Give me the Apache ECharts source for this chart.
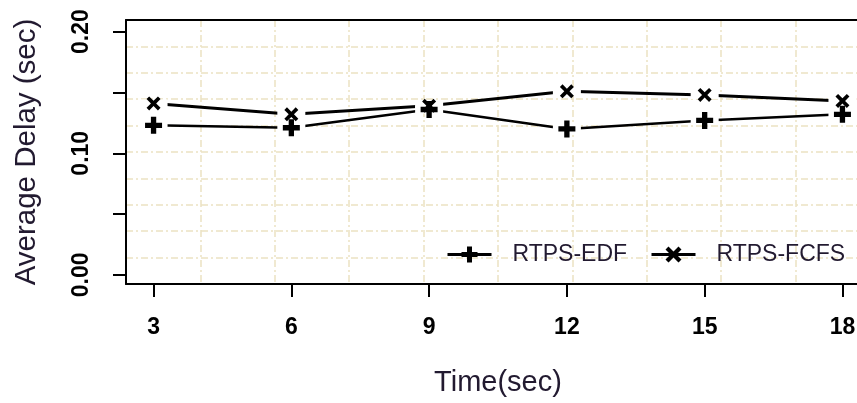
<!doctype html>
<html lang="en">
  <head>
    <meta charset="UTF-8" />
    <title>Average Delay</title>
    <script src="https://cdn.jsdelivr.net/npm/echarts@6/dist/echarts.min.js"></script>
  </head>
  <body style="margin: 0; background: #fff">
    <div id="chart" style="width: 857px; height: 403px"></div>
    <script>
      const times = [3, 6, 9, 12, 15, 18];
      const edfDelay = [0.123, 0.121, 0.136, 0.12, 0.127, 0.132];
      const fcfsDelay = [0.141, 0.132, 0.139, 0.151, 0.148, 0.143];
      const yTicks = [0, 0.05, 0.1, 0.15, 0.2];
      const yLabels = [0, 0.1, 0.2];

      const PLUS = 'path://M5.5,0H10.5V5.5H16V10.5H10.5V16H5.5V10.5H0V5.5H5.5Z';
      const CROSS = 'path://M0,3L3,0L8,5L13,0L16,3L11,8L16,13L13,16L8,11L3,16L0,13L5,8Z';
      const TEXT = '#221a30';
      const GRID = '#ece2c2';

      const pairs = (ys) => times.map((t, i) => [t, ys[i]]);

      // hidden 0..10 axes just to draw R's grid(10, 10); their axis lines close the box
      const gridAxis = {
        type: 'value',
        min: 0,
        max: 10,
        interval: 1,
        axisLine: { show: true, onZero: false, lineStyle: { color: '#000', width: 2 } },
        axisTick: { show: false },
        axisLabel: { show: false },
        splitLine: { show: true, lineStyle: { color: GRID, width: 1.5, type: [7, 3, 2, 3] } },
      };

      const legendBase = {
        orient: 'horizontal',
        top: 243,
        padding: 0,
        itemWidth: 44,
        itemHeight: 20,
        selectedMode: false,
        lineStyle: { width: 3, color: '#000' },
        textStyle: { fontFamily: 'Liberation Sans', fontSize: 23, color: TEXT, padding: [0, 0, 0, 16] },
      };

      const chart = echarts.init(document.getElementById('chart'));
      chart.setOption({
        animation: false,
        backgroundColor: '#fff',
        textStyle: { fontFamily: 'Liberation Sans' },
        grid: {
          left: 126,
          top: 20,
          width: 744,
          height: 264,
          outerBoundsMode: 'none',
          containLabel: false,
          show: false,
        },
        legend: [
          Object.assign({}, legendBase, { left: 446, data: ['RTPS-EDF'] }),
          Object.assign({}, legendBase, { left: 650, data: ['RTPS-FCFS'] }),
        ],
        xAxis: [
          {
            type: 'value',
            min: 2.4,
            max: 18.6,
            position: 'bottom',
            splitLine: { show: false },
            axisLine: { show: true, onZero: false, lineStyle: { color: '#000', width: 2 } },
            axisTick: { show: true, customValues: times, length: 13, lineStyle: { color: '#000', width: 2 } },
            axisLabel: {
              customValues: times,
              fontSize: 23,
              fontWeight: 'bold',
              color: '#000',
              margin: 32,
            },
            name: 'Time(sec)',
            nameLocation: 'middle',
            nameGap: 84,
            nameTextStyle: { fontSize: 29, color: TEXT },
          },
          Object.assign({ position: 'top' }, gridAxis),
        ],
        yAxis: [
          {
            type: 'value',
            min: -0.0075,
            max: 0.2096,
            position: 'left',
            splitLine: { show: false },
            axisLine: { show: true, onZero: false, lineStyle: { color: '#000', width: 2 } },
            axisTick: { show: true, customValues: yTicks, length: 13, lineStyle: { color: '#000', width: 2 } },
            axisLabel: {
              customValues: yLabels,
              rotate: 90,
              fontSize: 23,
              fontWeight: 'bold',
              color: '#000',
              margin: 33,
              formatter: (v) => v.toFixed(2),
            },
            name: 'Average Delay (sec)',
            nameLocation: 'middle',
            nameGap: 84,
            nameTextStyle: { fontSize: 29.5, color: TEXT },
          },
          Object.assign({ position: 'right' }, gridAxis),
        ],
        series: [
          {
            name: 'RTPS-EDF',
            type: 'line',
            data: pairs(edfDelay),
            symbol: PLUS,
            symbolSize: 17,
            showSymbol: false,
            silent: true,
            lineStyle: { color: '#000', width: 2.5 },
            itemStyle: { color: '#000' },
            z: 2,
          },
          {
            name: 'RTPS-FCFS',
            type: 'line',
            data: pairs(fcfsDelay),
            symbol: CROSS,
            symbolSize: 14,
            showSymbol: false,
            silent: true,
            lineStyle: { color: '#000', width: 3 },
            itemStyle: { color: '#000' },
            z: 2,
          },
          {
            // white patches give the gaps of R's type = "b"
            type: 'scatter',
            data: pairs(edfDelay).concat(pairs(fcfsDelay)),
            symbol: 'rect',
            symbolSize: [28, 8],
            silent: true,
            itemStyle: { color: '#fff', opacity: 1 },
            z: 3,
          },
          {
            type: 'scatter',
            data: pairs(edfDelay),
            symbol: PLUS,
            symbolSize: 17,
            silent: true,
            itemStyle: { color: '#000', opacity: 1 },
            z: 4,
          },
          {
            type: 'scatter',
            data: pairs(fcfsDelay),
            symbol: CROSS,
            symbolSize: 14,
            silent: true,
            itemStyle: { color: '#000', opacity: 1 },
            z: 4,
          },
        ],
      });
    </script>
  </body>
</html>
